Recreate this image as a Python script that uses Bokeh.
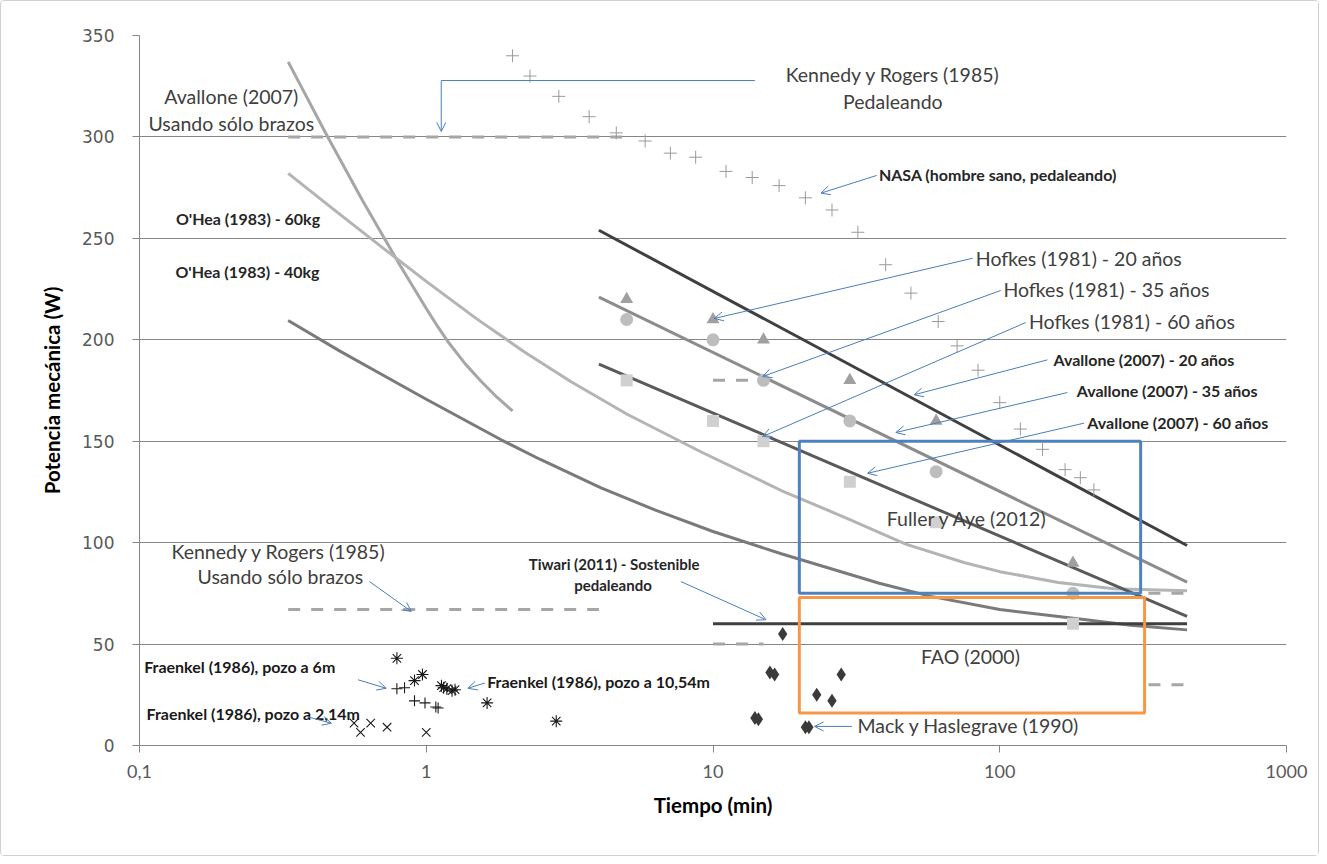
from bokeh.plotting import figure
from bokeh.models import Label, Arrow, OpenHead, FixedTicker, CustomJSTickFormatter
from bokeh.embed import file_html
from bokeh.resources import INLINE

# ---------------- data ----------------
x_ticks = [0.1, 1, 10, 100, 1000]
x_tick_labels = ["0,1", "1", "10", "100", "1000"]
y_ticks = [0, 50, 100, 150, 200, 250, 300, 350]

nasa_t = [2, 2.3, 2.9, 3.7, 4.6, 5.8, 7.1, 8.7, 11.1, 13.7, 17, 21, 26, 32, 40, 49, 61, 71, 84, 100, 118, 141, 169, 191, 213]
nasa_p = [340, 330, 320, 310, 302, 298, 292, 290, 283, 280, 276, 270, 264, 253, 237, 223, 209, 197, 185, 169, 156, 146, 136, 132, 126]

hofkes_t = [5, 10, 15, 30, 60, 180]
hofkes20_p = [220, 210, 200, 180, 160, 90]
hofkes35_p = [210, 200, 180, 160, 135, 75]
hofkes60_p = [180, 160, 150, 130, 110, 60]

avallone_t = [4, 450]
avallone20_p = [254, 98.6]
avallone35_p = [221, 80.5]
avallone60_p = [188, 63.6]

ohea60_t = [0.33, 0.5, 0.7, 1.0, 1.5, 2.2, 3.2, 5, 9.1, 17.3, 30, 47, 75, 100, 160, 250, 450]
ohea60_p = [282, 261.8, 245.7, 228.8, 210.3, 194, 179.3, 163.4, 144.7, 125.7, 111.4, 99.3, 90.2, 85.7, 80.4, 77.3, 76.3]

ohea40_t = [0.33, 0.5, 0.7, 1.0, 1.825, 2.5, 4.07, 6.3, 10, 17.3, 38, 57.5, 100, 200, 286, 450]
ohea40_p = [209.5, 194.4, 182.9, 170.7, 150.7, 141, 127, 116, 105.5, 94.5, 80, 73.5, 67, 62, 59.3, 57]

aval_arms_t = [0.33, 0.45, 0.6, 0.8, 1.0, 1.1, 1.2, 1.37, 1.55, 1.76, 2.0]
aval_arms_p = [337, 300.8, 268.5, 238, 215.4, 206.2, 198.4, 188.0, 179.7, 171.8, 164.9]

tiwari_t = [10, 450]
tiwari_p = [60, 60]

kr_ped_t = [0.33, 5]
kr_ped_p = [300, 300]
kr_arms_t = [0.33, 4]
kr_arms_p = [67, 67]
short180_t = [10, 15]
short180_p = [180, 180]
short50_t = [10, 15]
short50_p = [50, 50]
long75_t = [330, 450]
long75_p = [75, 75]
long30_t = [330, 450]
long30_p = [30, 30]

mack_t = [17.5, 15.8, 16.4, 28, 23, 26, 14.0, 14.4, 21, 21.6]
mack_p = [55, 36, 35, 35, 25, 22, 13.5, 13, 9, 9]

fr6_t = [0.79, 0.84, 0.91, 0.99, 1.08, 1.1]
fr6_p = [28, 28.5, 22, 21, 19, 18.5]
fr10_t = [0.79, 0.91, 0.97, 1.13, 1.15, 1.18, 1.23, 1.26, 1.63, 2.84]
fr10_p = [43, 32, 35, 29.5, 28.5, 28, 27, 27.5, 21, 12]
fr2_t = [0.56, 0.59, 0.64, 0.73, 1.0]
fr2_p = [11, 6.5, 11, 9, 6.5]

fuller_box = dict(left=[20], right=[310], bottom=[75], top=[150])
fao_box = dict(left=[20], right=[320], bottom=[16], top=[73])

# ---------------- figure ----------------
FONT = "Lato"
BLUE = "#4a7ebb"
AX = "#868686"
REG = 19.5
SMALL = 16

p = figure(width=1319, height=856, x_axis_type="log", x_range=(0.1, 1000), y_range=(0, 350),
           output_backend="svg", toolbar_location=None,
           min_border_left=138, min_border_right=34, min_border_top=34, min_border_bottom=112)
p.styles = {"border": "1px solid #d0d0d0", "border-radius": "4px"}
p.outline_line_color = None
p.background_fill_color = "white"
p.border_fill_color = "white"

p.xaxis.ticker = FixedTicker(ticks=x_ticks, minor_ticks=[])
p.xaxis.formatter = CustomJSTickFormatter(args=dict(xt=x_ticks, xl=x_tick_labels), code="""
for (let i = 0; i < xt.length; i++) {
  if (Math.abs(Math.log10(xt[i]) - Math.log10(tick)) < 1e-6) return xl[i];
}
return '';
""")
p.yaxis.ticker = FixedTicker(ticks=y_ticks, minor_ticks=[])
p.xgrid.visible = False
p.ygrid.ticker = FixedTicker(ticks=y_ticks)
p.ygrid.grid_line_color = AX
p.ygrid.grid_line_width = 1

for ax in (p.xaxis, p.yaxis):
    ax.axis_line_color = AX
    ax.major_tick_line_color = AX
    ax.major_tick_out = 7
    ax.major_tick_in = 0
    ax.minor_tick_line_color = None
    ax.major_label_text_color = "#595959"
    ax.axis_label_text_font = FONT
    ax.axis_label_text_font_style = "bold"
    ax.axis_label_text_font_size = "20.5px"
    ax.axis_label_text_color = "#000000"

p.xaxis.major_label_text_font = FONT
p.xaxis.major_label_text_font_size = "18px"
p.xaxis.major_label_standoff = 12
p.xaxis.axis_label = "Tiempo (min)"
p.xaxis.axis_label_standoff = 12
p.yaxis.major_label_text_font = "DejaVu Sans"
p.yaxis.major_label_text_font_size = "17px"
p.yaxis.major_label_standoff = 18
p.yaxis.axis_label = "Potencia mecánica (W)"
p.yaxis.axis_label_standoff = 15

# ---------------- lines ----------------
DASH = "12 11"
for t, v in [(kr_ped_t, kr_ped_p), (kr_arms_t, kr_arms_p), (short180_t, short180_p),
             (short50_t, short50_p), (long75_t, long75_p), (long30_t, long30_p)]:
    p.line(t, v, line_color="#a6a6a6", line_width=3, line_dash=DASH)

p.line(aval_arms_t, aval_arms_p, line_color="#a6a6a6", line_width=3, line_join="round")
p.line(ohea60_t, ohea60_p, line_color="#b4b4b4", line_width=3, line_join="round")
p.line(ohea40_t, ohea40_p, line_color="#7a7a7a", line_width=3, line_join="round")
p.line(avallone_t, avallone20_p, line_color="#404040", line_width=3)
p.line(avallone_t, avallone35_p, line_color="#8c8c8c", line_width=3)
p.line(avallone_t, avallone60_p, line_color="#5a5a5a", line_width=3)
p.line(tiwari_t, tiwari_p, line_color="#404040", line_width=3)

# ---------------- markers ----------------
p.scatter(nasa_t, nasa_p, marker="cross", size=13, line_color="#9a9a9a", line_width=1)
p.scatter(hofkes_t, hofkes20_p, marker="triangle", size=13, fill_color="#a0a0a0", line_color=None)
p.scatter(hofkes_t, hofkes35_p, marker="circle", size=13, fill_color="#bdbdbd", line_color=None)
p.scatter(hofkes_t, hofkes60_p, marker="square", size=12, fill_color="#d0d0d0", line_color=None)
p.scatter(mack_t, mack_p, marker="diamond", size=14, fill_color="#3a3a3a", line_color=None)
p.scatter(fr6_t, fr6_p, marker="cross", size=11, line_color="#1a1a1a", line_width=1.1)
p.scatter(fr10_t, fr10_p, marker="asterisk", size=12, line_color="#1a1a1a", line_width=1.1)
p.scatter(fr2_t, fr2_p, marker="x", size=12, line_color="#1a1a1a", line_width=1.1)

# ---------------- boxes ----------------
p.quad(**fuller_box, fill_color=None, line_color="#4f81bd", line_width=3)
p.quad(**fao_box, fill_color=None, line_color="#f79646", line_width=3)

# ---------------- annotations ----------------
def lab(x, y, text, size, bold=False, align="left", color="#404040"):
    p.add_layout(Label(x=x, y=y, text=text, text_font=FONT, text_font_size=f"{size}px",
                       text_font_style="bold" if bold else "normal", text_color=color,
                       text_align=align, text_baseline="middle"))

def arr(x0, y0, x1, y1):
    p.add_layout(Arrow(end=OpenHead(size=9, line_color=BLUE, line_width=1),
                       x_start=x0, y_start=y0, x_end=x1, y_end=y1,
                       line_color=BLUE, line_width=1))

lab(0.209, 320, "Avallone (2007)", REG, align="center")
lab(0.209, 306.6, "Usando sólo brazos", REG, align="center")
lab(0.239, 260, "O'Hea (1983) - 60kg", SMALL, bold=True, align="center", color="#262626")
lab(0.238, 233.7, "O'Hea (1983) - 40kg", SMALL, bold=True, align="center", color="#262626")

lab(42.4, 330.8, "Kennedy y Rogers (1985)", REG, align="center")
lab(42.4, 317.5, "Pedaleando", REG, align="center")
p.line([14.0, 1.128], [327.8, 327.8], line_color=BLUE, line_width=1)
arr(1.128, 327.8, 1.128, 302.7)

lab(37.9, 281.5, "NASA (hombre sano, pedaleando)", SMALL, bold=True, color="#262626")
arr(37.2, 281.0, 23.8, 272.3)

lab(82.5, 240.2, "Hofkes (1981) - 20 años", REG)
arr(80.5, 240.2, 10.1, 210.5)
lab(103, 224.6, "Hofkes (1981) - 35 años", REG)
arr(100.8, 224.3, 14.9, 181.9)
lab(126.5, 209, "Hofkes (1981) - 60 años", REG)
arr(123.2, 208.5, 14.9, 152.3)

lab(153.9, 190.1, "Avallone (2007) - 20 años", SMALL, bold=True, color="#262626")
arr(146.6, 190.1, 50.3, 172.9)
lab(185.5, 174.8, "Avallone (2007) - 35 años", SMALL, bold=True, color="#262626")
arr(172.2, 174.0, 43.4, 154.3)
lab(202.1, 159.4, "Avallone (2007) - 60 años", SMALL, bold=True, color="#262626")
arr(196.7, 158.9, 34.6, 134.2)

lab(0.306, 95.6, "Kennedy y Rogers (1985)", REG, align="center")
lab(0.31, 83.3, "Usando sólo brazos", REG, align="center")
arr(0.634, 80.8, 0.887, 66.1)

lab(4.52, 89.5, "Tiwari (2011) - Sostenible", 15, bold=True, align="center", color="#262626")
lab(4.48, 79.2, "pedaleando", 15, bold=True, align="center", color="#262626")
arr(7.73, 80.8, 15.3, 62)

lab(77, 112, "Fuller y Aye (2012)", REG, align="center")
lab(79, 44, "FAO (2000)", REG, align="center")
lab(31.9, 9.7, "Mack y Haslegrave (1990)", REG)
arr(30.5, 9.4, 22.6, 9.4)

lab(0.1038, 38.9, "Fraenkel (1986), pozo a 6m", SMALL, bold=True, color="#1a1a1a")
arr(0.578, 32.4, 0.725, 28.2)
lab(0.1058, 15.9, "Fraenkel (1986), pozo a 2,14m", SMALL, bold=True, color="#1a1a1a")
arr(0.382, 14.3, 0.467, 11.0)
lab(1.631, 31.5, "Fraenkel (1986), pozo a 10,54m", SMALL, bold=True, color="#1a1a1a")
arr(1.6, 30.8, 1.397, 28.2)

open("out.html", "w").write(file_html(p, INLINE))
